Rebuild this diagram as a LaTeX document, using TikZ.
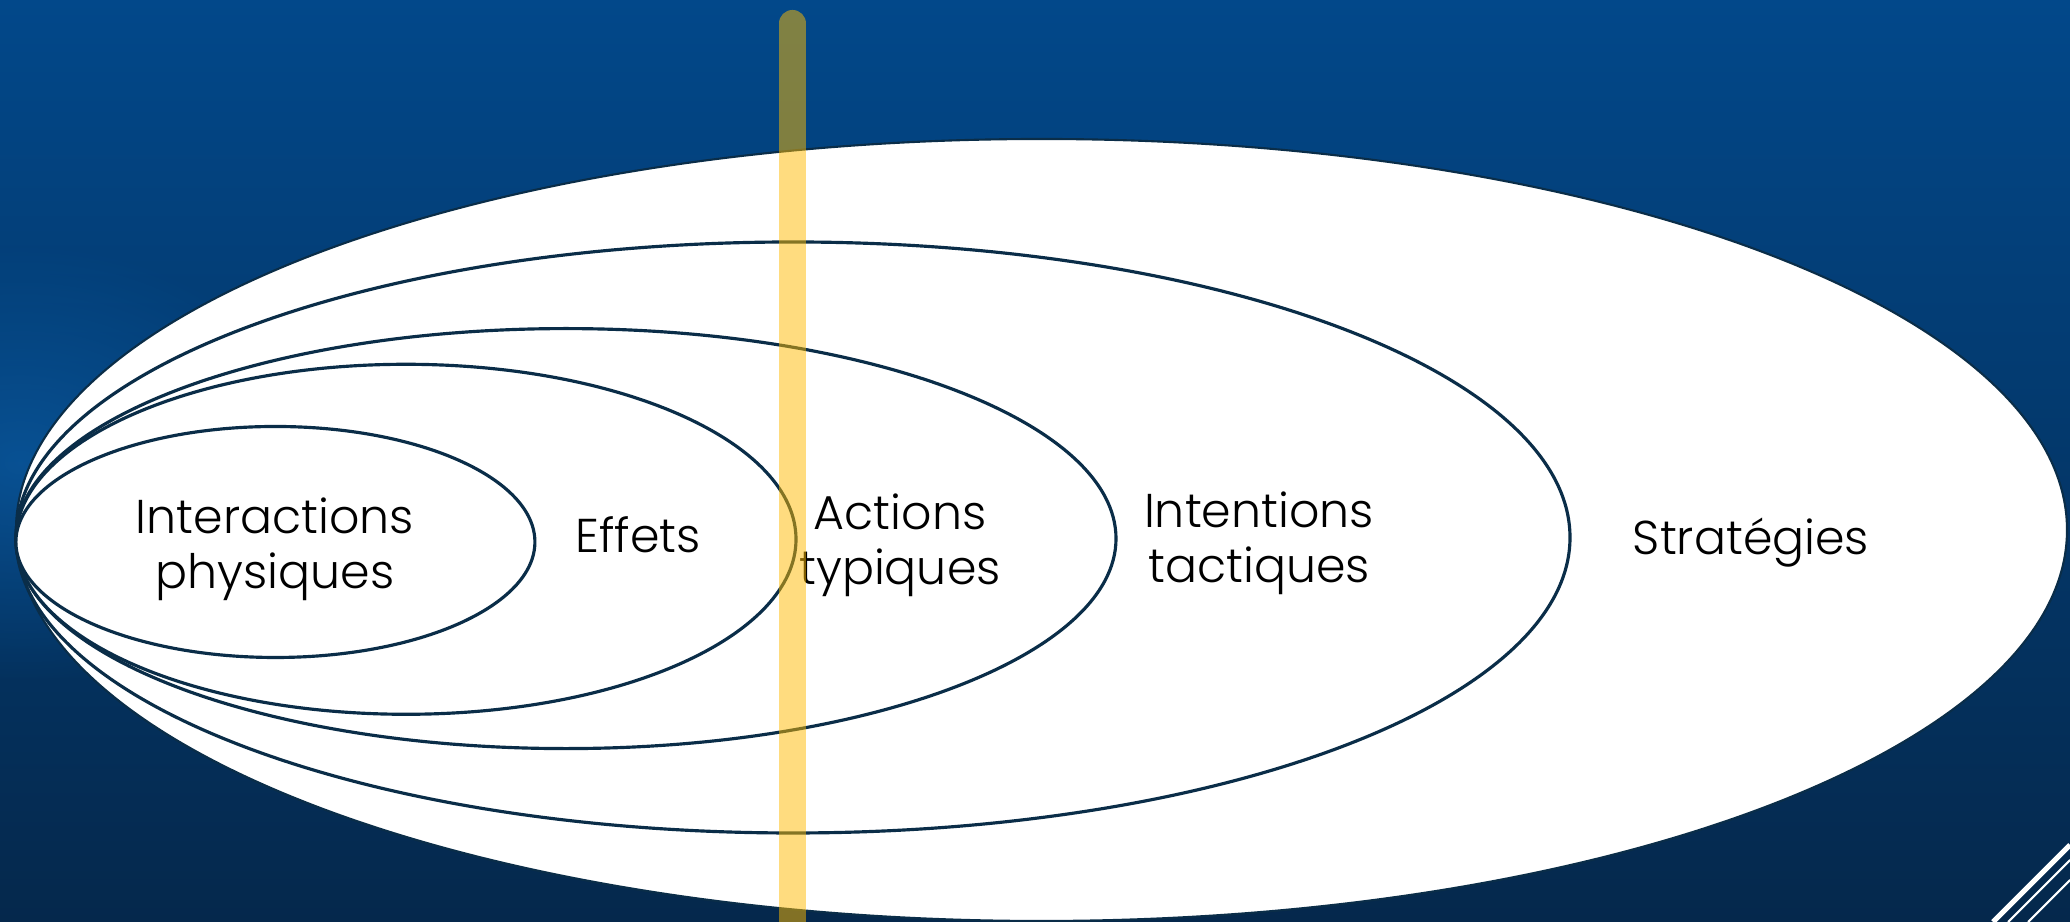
\documentclass[tikz,border=0pt]{standalone}
\usepackage{fontspec}
\setmainfont{Poppins}[UprightFont=* Light]
\usepackage{tikz}
\usetikzlibrary{shapes.geometric, positioning, fadings}

\definecolor{bgtop}{RGB}{2,72,138}
\definecolor{bgbot}{RGB}{5,40,76}
\definecolor{bglight}{RGB}{10,92,165}
\definecolor{rim}{RGB}{10,45,72}
\definecolor{marker}{RGB}{255,187,0}

\tikzfading[name=softspot, inner color=transparent!0, outer color=transparent!100]

\begin{document}
\begin{tikzpicture}[
  layer/.style={ellipse, draw=rim, line width=0.9pt, inner sep=0pt, fill=white},
  txt/.style={font=\fontsize{13.5}{15.6}\selectfont, align=center, text=black, inner sep=0pt},
  markbar/.style={draw=marker, line width=0.27cm, line cap=round, opacity=0.5},
  deco/.style={draw=white}]

  % backdrop
  \useasboundingbox (0,0) rectangle (20.70,9.22);
  \shade[top color=bgtop, bottom color=bgbot] (0,0) rectangle (20.70,9.22);
  \fill[bglight, opacity=0.7, path fading=softspot] (0.2,4.6) ellipse (3.0cm and 2.2cm);

  % nested levels, largest first
  \node (strat) [layer, line width=0.6pt, minimum width=20.51cm, minimum height=7.82cm] at (10.415,3.92) {};
  \node (intent) [layer, minimum width=15.54cm, minimum height=5.91cm] at (7.93,3.845) {};
  \node (action) [layer, minimum width=11.00cm, minimum height=4.20cm] at (5.66,3.834) {};
  \node (effet) [layer, minimum width=7.80cm, minimum height=3.50cm] at (4.06,3.827) {};
  \node (inter) [layer, minimum width=5.19cm, minimum height=2.31cm] at (2.754,3.80) {};

  \node (tinter) [txt] at (2.75,3.73) {Interactions\\physiques};
  \node (teffet) [txt, anchor=base] at (6.38,3.69) {Effets};
  \node (taction) [txt] at (9.00,3.77) {Actions\\typiques};
  \node (tintent) [txt] at (12.59,3.79) {Intentions\\tactiques};
  \node (tstrat) [txt, anchor=base] at (17.51,3.67) {Stratégies};

  % vertical marker
  \coordinate (mtop) at (7.925,8.985);
  \coordinate (mbot) at (7.925,-0.3);
  \draw [markbar] (mtop) -- (mbot);

  % corner stripes
  \coordinate (s1a) at (19.93,0);    \coordinate (s1b) at (20.70,0.77);
  \coordinate (s2a) at (20.08,0);    \coordinate (s2b) at (20.70,0.62);
  \coordinate (s3a) at (20.28,0);    \coordinate (s3b) at (20.70,0.42);
  \draw [deco, line width=1.5pt] (s1a) -- (s1b);
  \draw [deco, line width=0.6pt] (s2a) -- (s2b);
  \draw [deco, line width=0.6pt] (s3a) -- (s3b);
\end{tikzpicture}
\end{document}
